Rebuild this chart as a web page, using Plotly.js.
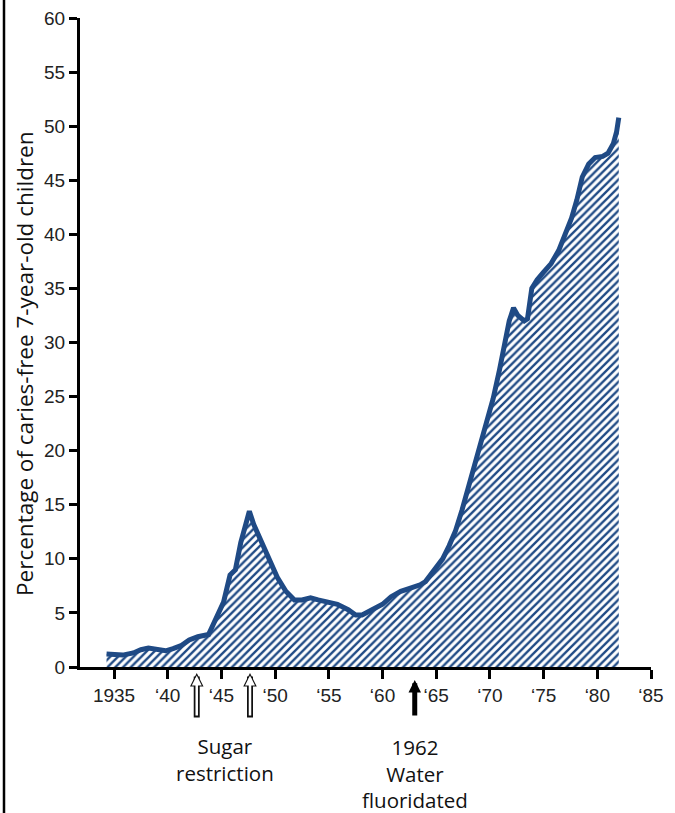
<!DOCTYPE html>
<html>
<head>
<meta charset="utf-8">
<script src="https://cdn.plot.ly/plotly-3.0.1.min.js"></script>
<style>html,body{margin:0;padding:0;background:#fff;}#chart{width:675px;height:813px;}</style>
</head>
<body>
<div id="chart"></div>
<script>
// Year (x) and percentage of caries-free 7-year-old children (y)
const years = [1934.3,1935.0,1935.8,1936.8,1937.5,1938.2,1939.0,1939.8,1940.5,1941.3,1942.0,1942.8,1943.8,1944.5,1945.2,1945.8,1946.3,1946.8,1947.3,1947.6,1948.0,1948.8,1949.5,1950.2,1951.0,1951.8,1952.5,1953.3,1954.0,1954.8,1955.8,1956.8,1957.5,1958.1,1959.0,1960.0,1960.8,1961.7,1962.6,1963.5,1964.0,1964.7,1965.6,1966.2,1966.8,1967.4,1967.9,1968.5,1969.1,1969.7,1970.3,1970.9,1971.4,1971.8,1972.2,1972.6,1973.2,1973.5,1973.9,1974.4,1975.0,1975.7,1976.4,1977.0,1977.6,1978.1,1978.6,1979.2,1979.8,1980.5,1981.0,1981.5,1981.8,1982.0];
const pct   = [1.2,1.1,1.1,1.3,1.6,1.75,1.6,1.5,1.7,2.0,2.5,2.8,3.0,4.5,6.0,8.5,9.0,11.5,13.5,14.4,13.2,11.5,10.0,8.3,7.0,6.2,6.2,6.4,6.2,6.0,5.8,5.3,4.8,4.8,5.3,5.8,6.5,7.0,7.3,7.6,7.9,8.8,10.0,11.2,12.6,14.5,16.3,18.6,20.5,22.6,24.8,27.5,30.2,32.0,33.2,32.5,32.0,32.2,35.0,35.8,36.5,37.3,38.5,40.0,41.5,43.2,45.3,46.5,47.1,47.2,47.5,48.4,49.5,50.8];

const xTickVals  = [1935,1940,1945,1950,1955,1960,1965,1970,1975,1980,1985];
const xTickText  = ['1935','‘40','‘45','‘50','‘55','‘60','‘65','‘70','‘75','‘80','‘85'];
const yTickVals  = [0,5,10,15,20,25,30,35,40,45,50,55,60];

const sugarYears = [1942.7, 1947.66];
const fluorYear  = 1963.0;

const navy = '#1f4a85';
const tickFont  = {family: '"Liberation Sans", Arial, sans-serif', size: 19, color: '#222'};
const titleFont = {family: '"Open Sans", Lato, sans-serif', size: 22.5, color: '#111'};
const annFont   = {family: '"Open Sans", Lato, sans-serif', size: 20.5, color: '#111'};

const trace = {
  x: years, y: pct, type: 'scatter', mode: 'lines',
  line: {color: navy, width: 5},
  fill: 'tozeroy',
  fillcolor: 'rgba(255,255,255,0)',
  fillpattern: {shape: '/', fgcolor: navy, bgcolor: 'white', size: 5.5, solidity: 0.42},
  hoverinfo: 'skip'
};

const annotations = [];
// y-axis title
annotations.push({
  xref: 'paper', yref: 'paper', x: -0.0963, y: 0.467, textangle: -90,
  text: 'Percentage of caries-free 7-year-old children', showarrow: false,
  font: titleFont, xanchor: 'center', yanchor: 'middle'
});
// hollow arrows (outline + white inner)
sugarYears.forEach(function (yr) {
  annotations.push({xref: 'x', yref: 'paper', x: yr, y: -0.00925, ax: 0, ay: 46,
    text: '', showarrow: true, arrowhead: 2, arrowsize: 0.45, arrowwidth: 6, arrowcolor: '#111'});
  annotations.push({xref: 'x', yref: 'paper', x: yr, y: -0.00925, ax: 0, ay: 44,
    text: '', showarrow: true, arrowhead: 2, arrowsize: 0.8, arrowwidth: 2.5, arrowcolor: '#fff', standoff: 2.5});
});
// solid arrow
annotations.push({xref: 'x', yref: 'paper', x: fluorYear, y: -0.02, ax: 0, ay: 37,
  text: '', showarrow: true, arrowhead: 2, arrowsize: 0.5, arrowwidth: 5, arrowcolor: '#000'});
// labels
annotations.push({xref: 'x', yref: 'paper', x: 1945.3, y: (667 - 759) / 649,
  text: 'Sugar<br>restriction', showarrow: false, font: annFont, xanchor: 'center', yanchor: 'middle'});
annotations.push({xref: 'x', yref: 'paper', x: fluorYear, y: (667 - 773) / 649,
  text: '1962<br>Water<br>fluoridated', showarrow: false, font: annFont, xanchor: 'center', yanchor: 'middle'});

const layout = {
  width: 675, height: 813,
  margin: {l: 80, r: 24, t: 18, b: 146, pad: 0},
  paper_bgcolor: '#fff', plot_bgcolor: '#fff',
  showlegend: false, hovermode: false,
  xaxis: {
    range: [1931.83, 1985], tickvals: xTickVals, ticktext: xTickText,
    showgrid: false, zeroline: false, showline: true, linecolor: '#000', linewidth: 3,
    ticks: 'outside', ticklen: 9, tickwidth: 3, tickcolor: '#000', tickfont: tickFont, fixedrange: true
  },
  yaxis: {
    range: [0, 60], tickvals: yTickVals,
    showgrid: false, zeroline: false, showline: true, linecolor: '#000', linewidth: 3,
    ticks: 'outside', ticklen: 8, tickwidth: 3, tickcolor: '#000', tickfont: tickFont, fixedrange: true
  },
  shapes: [{type: 'line', xref: 'paper', yref: 'paper', x0: -0.1331, x1: -0.1331, y0: -0.3, y1: 1.1,
    line: {color: '#000', width: 2.5}}],
  annotations: annotations
};

Plotly.newPlot('chart', [trace], layout, {displayModeBar: false, staticPlot: true});
</script>
</body>
</html>
